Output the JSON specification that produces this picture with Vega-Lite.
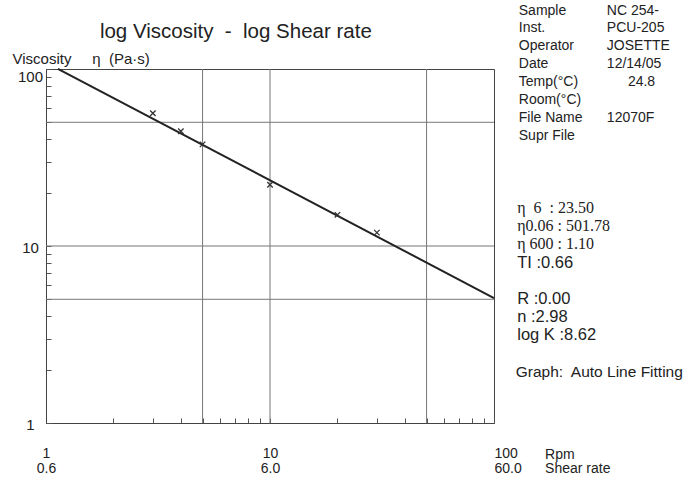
{
  "$schema": "https://vega.github.io/schema/vega-lite/v6.json",
  "width": 448,
  "height": 354,
  "autosize": {"type": "none"},
  "padding": {"left": 46, "top": 69, "right": 194, "bottom": 62},
  "background": "white",
  "config": {
    "view": {"stroke": "#444", "strokeWidth": 1},
    "font": "Liberation Sans",
    "axis": {"labelFont": "Liberation Sans", "titleFont": "Liberation Sans"}
  },
  "datasets": {
    "points": [
      {"rpm": 3, "visc": 56.2},
      {"rpm": 4, "visc": 44.5},
      {"rpm": 5, "visc": 37.5},
      {"rpm": 10, "visc": 22.2},
      {"rpm": 20, "visc": 15.0},
      {"rpm": 30, "visc": 11.9}
    ],
    "fit": [
      {"rpm": 1.13, "visc": 100.3},
      {"rpm": 100, "visc": 5.08}
    ],
    "vgrid": [{"rpm": 5}, {"rpm": 10}, {"rpm": 50}],
    "hgrid": [{"visc": 5}, {"visc": 10}, {"visc": 50}],
    "title": [{"rpm": 1.74, "visc": 150, "t": "log Viscosity\u00a0 -\u00a0 log Shear rate"}],
    "info": [
      {"rpm": 129, "visc": 202.7, "t": "Sample"},
      {"rpm": 129, "visc": 161.1, "t": "Inst."},
      {"rpm": 129, "visc": 127.4, "t": "Operator"},
      {"rpm": 129, "visc": 101.3, "t": "Date"},
      {"rpm": 129, "visc": 80.0, "t": "Temp(°C)"},
      {"rpm": 129, "visc": 63.2, "t": "Room(°C)"},
      {"rpm": 129, "visc": 50.0, "t": "File Name"},
      {"rpm": 129, "visc": 39.5, "t": "Supr File"},
      {"rpm": 319, "visc": 202.7, "t": "NC 254-"},
      {"rpm": 319, "visc": 161.1, "t": "PCU-205"},
      {"rpm": 319, "visc": 127.4, "t": "JOSETTE"},
      {"rpm": 319, "visc": 101.3, "t": "12/14/05"},
      {"rpm": 396, "visc": 80.0, "t": "24.8"},
      {"rpm": 319, "visc": 50.0, "t": "12070F"},
      {"rpm": 169, "visc": 0.63, "t": "Rpm"},
      {"rpm": 169, "visc": 0.52, "t": "Shear rate"}
    ],
    "graph": [
      {"rpm": 125, "visc": 1.82, "t": "Graph:\u00a0 Auto Line Fitting"}
    ],
    "eta": [
      {"rpm": 127, "visc": 15.4, "t": "η\u00a0 6\u00a0 : 23.50"},
      {"rpm": 127, "visc": 12.17, "t": "η0.06 : 501.78"},
      {"rpm": 127, "visc": 9.62, "t": "η 600 : 1.10"}
    ],
    "stats": [
      {"rpm": 127, "visc": 7.5, "t": "TI :0.66"},
      {"rpm": 127, "visc": 4.68, "t": "R :0.00"},
      {"rpm": 127, "visc": 3.7, "t": "n :2.98"},
      {"rpm": 127, "visc": 2.96, "t": "log K :8.62"}
    ]
  },
  "layer": [
    {
      "data": {"name": "vgrid"},
      "mark": {"type": "rule", "color": "#777", "strokeWidth": 1},
      "encoding": {
        "x": {"field": "rpm", "type": "quantitative", "scale": {"type": "log", "domain": [1, 100]}}
      }
    },
    {
      "data": {"name": "hgrid"},
      "mark": {"type": "rule", "color": "#777", "strokeWidth": 1},
      "encoding": {
        "y": {"field": "visc", "type": "quantitative", "scale": {"type": "log", "domain": [1, 100]}}
      }
    },
    {
      "data": {"name": "fit"},
      "mark": {"type": "line", "color": "#222", "strokeWidth": 2},
      "encoding": {
        "x": {"field": "rpm", "type": "quantitative", "scale": {"type": "log", "domain": [1, 100]}},
        "y": {"field": "visc", "type": "quantitative", "scale": {"type": "log", "domain": [1, 100]}}
      }
    },
    {
      "data": {"name": "points"},
      "mark": {"type": "point", "shape": "M-1,-1L1,1M-1,1L1,-1", "filled": false, "size": 30, "strokeWidth": 1.3, "color": "#333", "opacity": 1},
      "encoding": {
        "x": {
          "field": "rpm", "type": "quantitative",
          "scale": {"type": "log", "domain": [1, 100]},
          "axis": {
            "title": null,
            "grid": false,
            "values": [1, 2, 3, 4, 5, 6, 7, 8, 9, 10, 20, 30, 40, 50, 60, 70, 80, 90, 100],
            "labelExpr": "datum.value == 1 ? ['1', '0.6'] : datum.value == 10 ? ['10', '6.0'] : datum.value == 100 ? ['100', '60.0'] : ''",
            "labelAlign": {"condition": {"test": "datum.value == 100", "value": "left"}, "value": "center"},
            "labelBaseline": "alphabetic",
            "labelFontSize": 14,
            "labelLineHeight": 15,
            "labelColor": "#222",
            "labelPadding": 39,
            "labelFlush": false,
            "labelOverlap": false,
            "tickSize": -5,
            "tickColor": "#555",
            "domainColor": "#444"
          }
        },
        "y": {
          "field": "visc", "type": "quantitative",
          "scale": {"type": "log", "domain": [1, 100]},
          "axis": {
            "title": "Viscosity\u00a0\u00a0\u00a0\u00a0\u00a0η\u00a0\u00a0(Pa·s)",
            "titleAngle": 0,
            "titleAlign": "left",
            "titleBaseline": "alphabetic",
            "titleX": -34,
            "titleY": -6,
            "titleFontSize": 15,
            "titleFontWeight": "normal",
            "titleColor": "#222",
            "grid": false,
            "values": [1, 2, 3, 4, 5, 6, 7, 8, 9, 10, 20, 30, 40, 50, 60, 70, 80, 90, 100],
            "labelExpr": "datum.value == 1 ? '1' : datum.value == 10 ? '10' : datum.value == 100 ? '100' : ''",
            "labelAlign": "center",
            "labelBaseline": "middle",
            "labelFontSize": 15,
            "labelColor": "#222",
            "labelPadding": 21,
            "labelOffset": {"condition": {"test": "datum.value == 100", "value": 7}, "value": 1},
            "labelFlush": false,
            "labelOverlap": false,
            "tickSize": -5,
            "tickColor": "#555",
            "domainColor": "#444"
          }
        }
      }
    },
    {
      "data": {"name": "title"},
      "mark": {"type": "text", "align": "left", "baseline": "alphabetic", "fontSize": 20.5, "font": "Liberation Sans", "color": "#222"},
      "encoding": {
        "x": {"field": "rpm", "type": "quantitative", "scale": {"type": "log", "domain": [1, 100]}},
        "y": {"field": "visc", "type": "quantitative", "scale": {"type": "log", "domain": [1, 100]}},
        "text": {"field": "t"}
      }
    },
    {
      "data": {"name": "info"},
      "mark": {"type": "text", "align": "left", "baseline": "alphabetic", "fontSize": 14, "font": "Liberation Sans", "color": "#222"},
      "encoding": {
        "x": {"field": "rpm", "type": "quantitative", "scale": {"type": "log", "domain": [1, 100]}},
        "y": {"field": "visc", "type": "quantitative", "scale": {"type": "log", "domain": [1, 100]}},
        "text": {"field": "t"}
      }
    },
    {
      "data": {"name": "graph"},
      "mark": {"type": "text", "align": "left", "baseline": "alphabetic", "fontSize": 15.5, "font": "Liberation Sans", "color": "#222"},
      "encoding": {
        "x": {"field": "rpm", "type": "quantitative", "scale": {"type": "log", "domain": [1, 100]}},
        "y": {"field": "visc", "type": "quantitative", "scale": {"type": "log", "domain": [1, 100]}},
        "text": {"field": "t"}
      }
    },
    {
      "data": {"name": "eta"},
      "mark": {"type": "text", "align": "left", "baseline": "alphabetic", "fontSize": 16, "font": "Liberation Serif", "color": "#222"},
      "encoding": {
        "x": {"field": "rpm", "type": "quantitative", "scale": {"type": "log", "domain": [1, 100]}},
        "y": {"field": "visc", "type": "quantitative", "scale": {"type": "log", "domain": [1, 100]}},
        "text": {"field": "t"}
      }
    },
    {
      "data": {"name": "stats"},
      "mark": {"type": "text", "align": "left", "baseline": "alphabetic", "fontSize": 16.5, "font": "Liberation Sans", "color": "#222"},
      "encoding": {
        "x": {"field": "rpm", "type": "quantitative", "scale": {"type": "log", "domain": [1, 100]}},
        "y": {"field": "visc", "type": "quantitative", "scale": {"type": "log", "domain": [1, 100]}},
        "text": {"field": "t"}
      }
    }
  ]
}
